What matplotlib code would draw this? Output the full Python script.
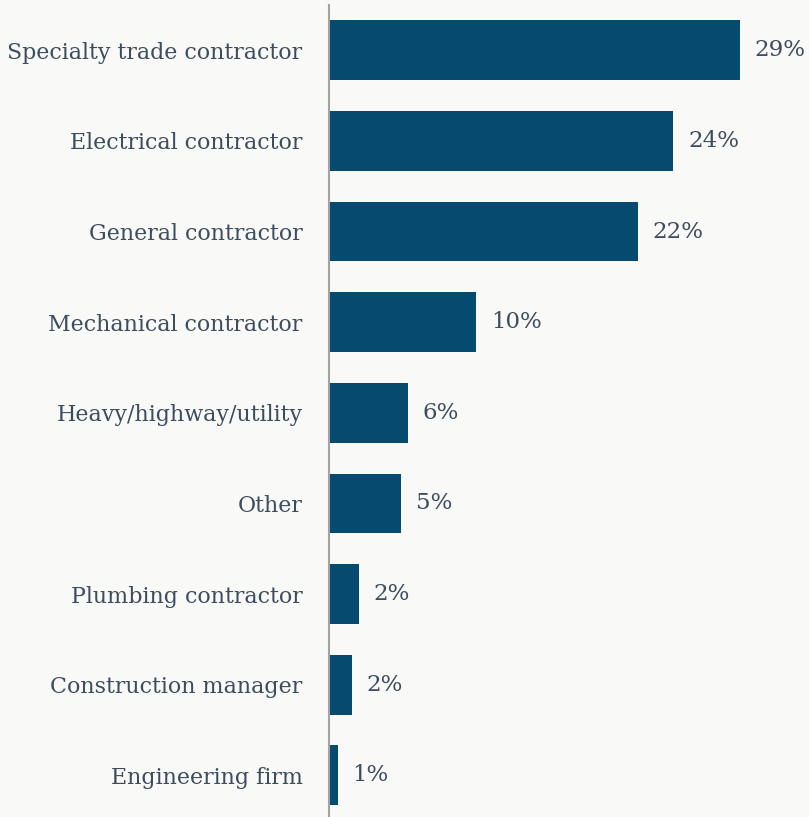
"""Horizontal bar chart — respondent company type."""

import matplotlib

matplotlib.use("Agg")
import matplotlib.pyplot as plt

categories = [
    "Specialty trade contractor",
    "Electrical contractor",
    "General contractor",
    "Mechanical contractor",
    "Heavy/highway/utility",
    "Other",
    "Plumbing contractor",
    "Construction manager",
    "Engineering firm",
]
shares = [29.0, 24.3, 21.8, 10.4, 5.6, 5.1, 2.1, 1.6, 0.6]

BG = "#f9f9f7"
BAR = "#074a70"
TEXT = "#3d4d5e"

plt.rcParams["font.family"] = ["DejaVu Serif"]

W, H, DPI = 809, 817, 100
fig = plt.figure(figsize=(W / DPI, H / DPI), dpi=DPI, facecolor=BG)
ax = fig.add_axes([329 / W, 0, 1 - 329 / W, 812 / H])
ax.set_facecolor(BG)

ys = range(len(categories))
ax.barh(ys, shares, height=0.66, color=BAR)
for y, v in zip(ys, shares):
    ax.annotate(f"{v:.0f}%", (v, y), xytext=(10.5, 0), textcoords="offset points",
                va="center", ha="left", fontsize=16.5, color=TEXT)

ax.set_xlim(0, 33.87)
ax.set_ylim(8.46, -0.5)
ax.set_yticks(list(ys))
ax.set_yticklabels(categories, fontsize=15.9, color=TEXT)
ax.tick_params(axis="y", length=0, pad=19)
ax.set_xticks([])
for side in ("top", "right", "bottom"):
    ax.spines[side].set_visible(False)
ax.spines["left"].set_color("#a3a3a3")
ax.spines["left"].set_linewidth(1.5)

fig.savefig("out.png", dpi=DPI, facecolor=BG)
plt.close(fig)
